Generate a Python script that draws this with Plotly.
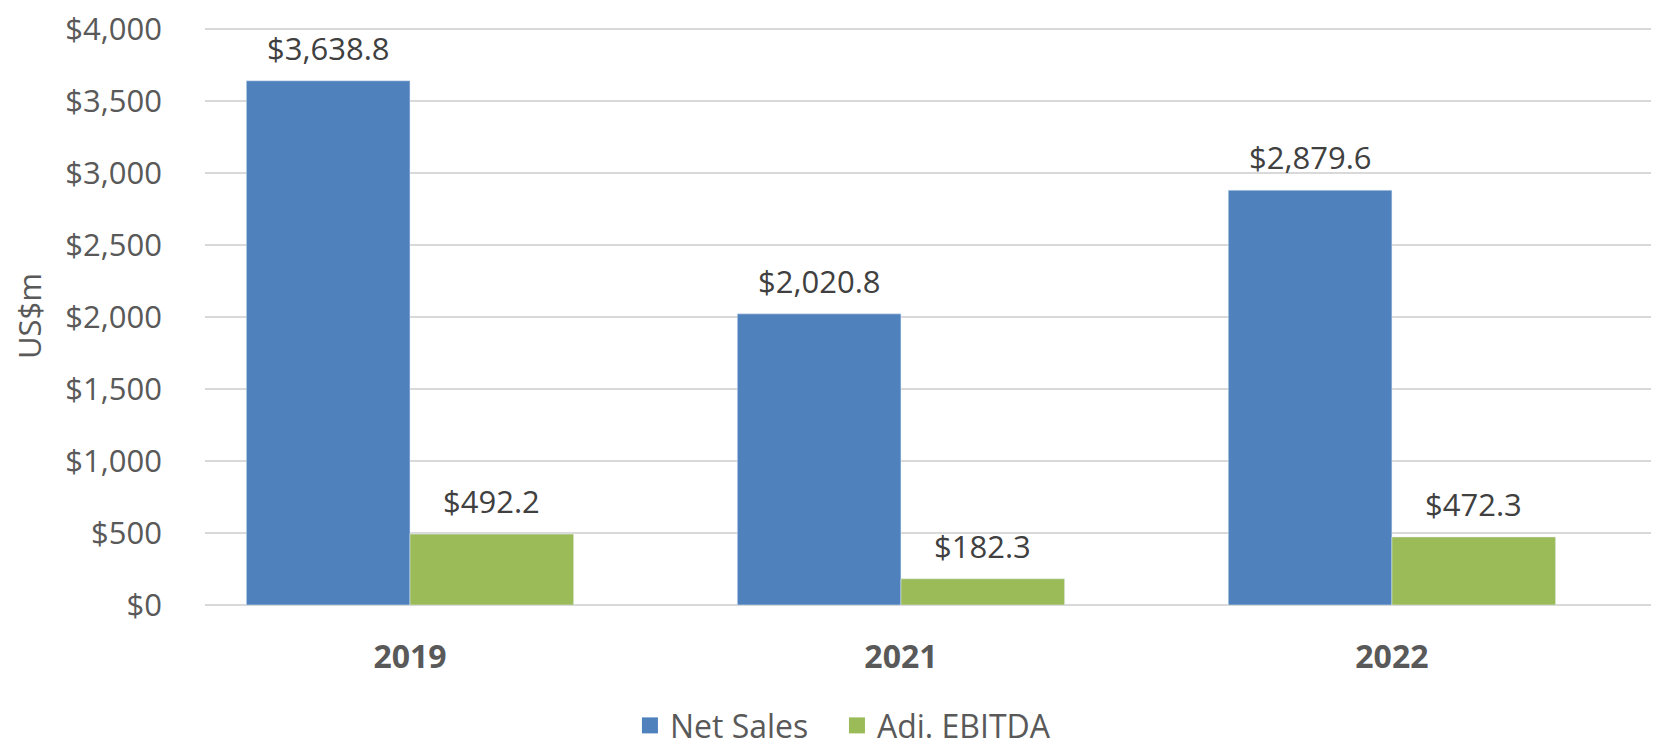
import plotly.graph_objects as go

categories = ["2019", "2021", "2022"]
net_sales = [3638.8, 2020.8, 2879.6]
adj_ebitda = [492.2, 182.3, 472.3]
y_ticks = [0, 500, 1000, 1500, 2000, 2500, 3000, 3500, 4000]
y_tick_text = ["${:,}".format(v) for v in y_ticks]

BLUE = "#4F81BD"
GREEN = "#9BBB59"
FONT = "Open Sans, DejaVu Sans, sans-serif"

xpos = list(range(len(categories)))
bargap = 1 / 3
bar_w = (1 - bargap) / 2

fig = go.Figure()
fig.add_trace(go.Bar(x=xpos, y=net_sales, name="Net Sales", marker_color=BLUE,
                     showlegend=False))
fig.add_trace(go.Bar(x=xpos, y=adj_ebitda, name="Adj. EBITDA", marker_color=GREEN,
                     showlegend=False))
# legend proxies (bigger square swatches), one legend each for exact placement
for name, col, lg in [("Net Sales", BLUE, "legend"), ("Adj. EBITDA", GREEN, "legend2")]:
    fig.add_trace(go.Scatter(x=[None], y=[None], mode="markers", name=name,
                             legend=lg,
                             marker=dict(symbol="square", size=16, color=col)))

annotations = []
for i in xpos:
    for val, off in [(net_sales[i], -bar_w / 2), (adj_ebitda[i], bar_w / 2)]:
        annotations.append(dict(
            x=i + off, y=val, xref="x", yref="y",
            text="${:,.1f}".format(val), showarrow=False,
            yanchor="middle", yshift=33,
            font=dict(family=FONT, size=31, color="#404040")))

legend_common = dict(orientation="h", xref="container", yref="container",
                     xanchor="left", y=0.017, yanchor="middle",
                     font=dict(family=FONT, size=32, color="#595959"),
                     itemwidth=30, bgcolor="rgba(0,0,0,0)")

fig.update_layout(
    width=1651, height=730,
    margin=dict(l=197, r=0, t=19, b=133),
    plot_bgcolor="white", paper_bgcolor="white",
    barmode="group", bargap=bargap, bargroupgap=0,
    font=dict(family=FONT, color="#595959"),
    annotations=annotations,
    legend=dict(x=0.3767, **legend_common),
    legend2=dict(x=0.5021, **legend_common),
    xaxis=dict(
        tickmode="array", tickvals=xpos, ticktext=categories,
        range=[-0.4175, 2.544], showgrid=False, showline=False, zeroline=False,
        tickfont=dict(family=FONT, size=32, color="#595959", weight="bold"),
        ticks="", ticklabelstandoff=30,
    ),
    yaxis=dict(
        range=[0, 4012], tickmode="array", tickvals=y_ticks, ticktext=y_tick_text,
        showgrid=True, gridcolor="#D9D9D9", gridwidth=2,
        zeroline=True, zerolinecolor="#D9D9D9", zerolinewidth=2,
        showline=False, ticks="", ticklabelstandoff=42,
        ticklabeloverflow="allow",
        tickfont=dict(family=FONT, size=31, color="#595959"),
        title=dict(text="US$m", font=dict(family=FONT, size=31, color="#595959"),
                   standoff=18),
    ),
)

fig.write_html("out.html")
